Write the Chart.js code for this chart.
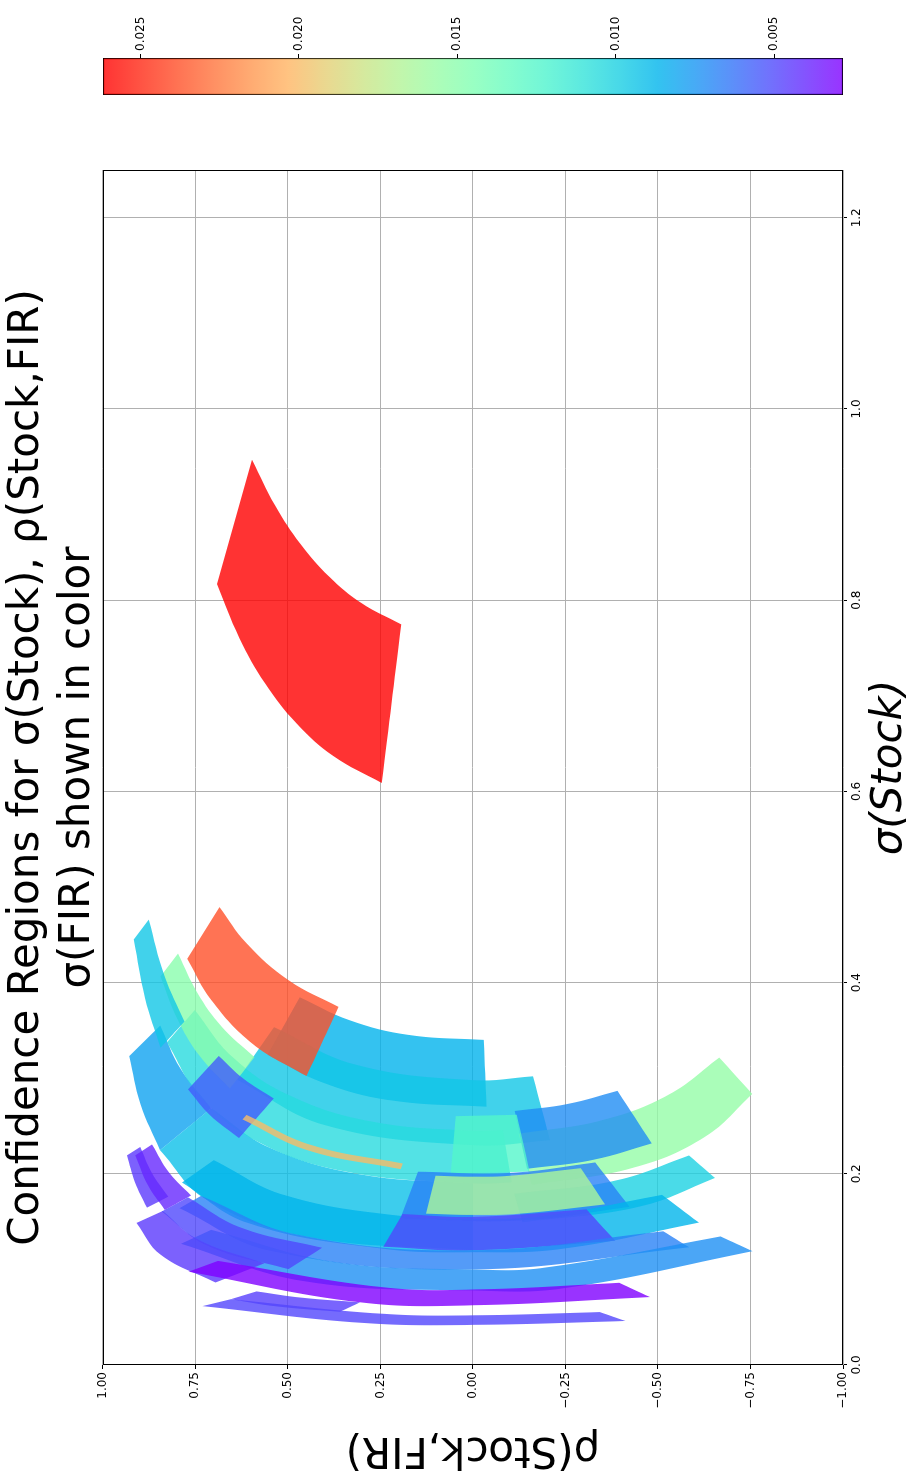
<!DOCTYPE html>
<html>
<head>
<meta charset="utf-8">
<script src="https://cdn.jsdelivr.net/npm/chart.js@4.4.1/dist/chart.umd.min.js"></script>
<style>
  html, body { margin: 0; padding: 0; background: #fff; overflow: hidden; }
  /* the figure is drawn landscape and turned a quarter turn, like the reference */
  #page { position: absolute; left: 0; top: 0; width: 1480px; height: 915px;
          transform-origin: 0 0; transform: translateY(1480px) rotate(-90deg); }
  #main { position: absolute; left: 0; top: 0; width: 1480px; height: 915px; }
  #cbar { position: absolute; left: 1385px; top: 0; width: 97px; height: 915px; }
</style>
</head>
<body>
<div id="page">
  <canvas id="main" width="1480" height="915"></canvas>
  <canvas id="cbar" width="97" height="915"></canvas>
</div>
<script>
// ── data ──────────────────────────────────────────
// sigma(FIR) of each confidence region, in drawing order (bottom first)
const firVol = [0.0262, 0.0086, 0.0080, 0.0092, 0.0095, 0.0238, 0.0105, 0.0150, 0.0095,
  0.0056, 0.0200, 0.0155, 0.0072, 0.0125, 0.0100, 0.0068, 0.0165, 0.0087, 0.0050,
  0.0068, 0.0073, 0.0045, 0.0050, 0.0045, 0.0040, 0.0047, 0.0028, 0.0049];

// outline of each region (lower edge, then upper edge): sigma(Stock)
const sigmaStock = [
  [0.8169, 0.7606, 0.7128, 0.6712, 0.6369, 0.6088, 0.7747, 0.7970, 0.8246, 0.8588, 0.8989, 0.9470],
  [0.3245, 0.2955, 0.2766, 0.2702, 0.3401, 0.3453, 0.3606, 0.3847],
  [0.3231, 0.2728, 0.2247, 0.2687, 0.3100, 0.3551],
  [0.2247, 0.1733, 0.1342, 0.1200, 0.1900, 0.1992, 0.2274, 0.2687],
  [0.2983, 0.2508, 0.2300, 0.2352, 0.3020, 0.2980, 0.3143, 0.3534],
  [0.4249, 0.3818, 0.3360, 0.3023, 0.3746, 0.4022, 0.4412, 0.4790],
  [0.3376, 0.2832, 0.2360, 0.2025, 0.1900, 0.1910, 0.2458, 0.2450, 0.2548, 0.2822, 0.3227, 0.3713],
  [0.4064, 0.3628, 0.3242, 0.2892, 0.3220, 0.3538, 0.3895, 0.4304],
  [0.4451, 0.3838, 0.3318, 0.3592, 0.4077, 0.4659],
  [0.2883, 0.2616, 0.2374, 0.2788, 0.2997, 0.3233],
  [0.2569, 0.2245, 0.2049, 0.2108, 0.2299, 0.2616],
  [0.1884, 0.2066, 0.2389, 0.2835, 0.3216, 0.2830, 0.2563, 0.2419],
  [0.2052, 0.2147, 0.2318, 0.2868, 0.2731, 0.2657],
  [0.2004, 0.2024, 0.2618, 0.2603],
  [0.1493, 0.1659, 0.1957, 0.2192, 0.1932, 0.1791],
  [0.1530, 0.1513, 0.1655, 0.2119, 0.2010, 0.2022],
  [0.1583, 0.1570, 0.1583, 0.1681, 0.2059, 0.1980, 0.1970, 0.1980],
  [0.1909, 0.1484, 0.1218, 0.1180, 0.1218, 0.1490, 0.1780, 0.1559, 0.1530, 0.1559, 0.1775, 0.2143],
  [0.1237, 0.1200, 0.1300, 0.1629, 0.1550, 0.1579],
  [0.1640, 0.1193, 0.1000, 0.1232, 0.1399, 0.1200, 0.1365, 0.1769],
  [0.1268, 0.0877, 0.0780, 0.0805, 0.1191, 0.1345, 0.1020, 0.1000, 0.1077, 0.1414],
  [0.1486, 0.1155, 0.0863, 0.1065, 0.1313, 0.1611],
  [0.1606, 0.1252, 0.1003, 0.1227, 0.1437, 0.1754],
  [0.2193, 0.1916, 0.1646, 0.1761, 0.2016, 0.2281],
  [0.2193, 0.1880, 0.1622, 0.1773, 0.2011, 0.2307],
  [0.0688, 0.0613, 0.0557, 0.0656, 0.0704, 0.0770],
  [0.0976, 0.0656, 0.0625, 0.0711, 0.0860, 0.0790, 0.0815, 0.1089],
  [0.0616, 0.0440, 0.0420, 0.0461, 0.0554, 0.0520, 0.0536, 0.0688]
];

// outline of each region (lower edge, then upper edge): rho(Stock,FIR)
const rhoStockFir = [
  [0.6916, 0.6311, 0.5612, 0.4768, 0.3768, 0.2464, 0.1936, 0.3011, 0.3881, 0.4658, 0.5340, 0.5966],
  [0.5547, 0.4061, 0.2169, -0.0370, -0.0294, 0.1738, 0.3328, 0.4679],
  [0.9285, 0.8981, 0.8455, 0.7071, 0.7903, 0.8448],
  [0.8455, 0.7213, 0.4472, 0, 0, 0.3012, 0.5496, 0.7071],
  [0.6369, 0.3987, 0, -0.2083, -0.1623, 0, 0.3182, 0.5376],
  [0.7720, 0.7071, 0.5952, 0.4499, 0.3631, 0.4972, 0.6119, 0.6848],
  [0.8265, 0.7415, 0.5932, 0.3457, 0, -0.1047, -0.0814, 0, 0.2747, 0.4961, 0.6508, 0.7514],
  [0.8440, 0.7993, 0.7402, 0.6570, 0.5900, 0.6783, 0.7446, 0.7969],
  [0.9166, 0.8859, 0.8439, 0.7795, 0.8339, 0.8757],
  [0.7700, 0.7110, 0.6319, 0.5380, 0.6206, 0.6867],
  [0.6228, 0.4454, 0.1952, 0.1897, 0.4350, 0.6116],
  [-0.1592, -0.4356, -0.6279, -0.7548, -0.6654, -0.5300, -0.3511, -0.1240],
  [-0.1462, -0.3260, -0.4832, -0.3905, -0.2563, -0.1129],
  [0.0599, -0.1532, -0.1184, 0.0461],
  [-0.1339, -0.4521, -0.6541, -0.5839, -0.3882, -0.1117],
  [0.1961, -0.1322, -0.4229, -0.3303, -0.0995, 0.1483],
  [0.1264, 0, -0.1264, -0.3570, -0.2914, -0.1010, 0, 0.1010],
  [0.7858, 0.6065, 0.2463, 0, -0.2463, -0.6107, -0.5112, -0.1924, 0, 0.1924, 0.5070, 0.7000],
  [0.2425, 0, -0.3846, -0.3070, 0, 0.1900],
  [0.7926, 0.5450, 0, -0.5843, -0.5146, 0, 0.4762, 0.7348],
  [0.7885, 0.4563, 0, -0.2484, -0.7557, -0.6690, -0.1961, 0, 0.3714, 0.7071],
  [0.9088, 0.8441, 0.6953, 0.5634, 0.7425, 0.8378],
  [0.8406, 0.7189, 0.4985, 0.4075, 0.6264, 0.7696],
  [0.9347, 0.9134, 0.8809, 0.8234, 0.8681, 0.8988],
  [0.9120, 0.8777, 0.8323, 0.7614, 0.8205, 0.8669],
  [0.6541, 0.5300, 0.3590, 0.3048, 0.4615, 0.5844],
  [0.7682, 0.3048, 0, -0.4782, -0.3953, 0, 0.2454, 0.6885],
  [0.7306, 0.2955, 0, -0.4122, -0.3430, 0, 0.2425, 0.6541]
];

const sigmaTicks = [0, 0.2, 0.4, 0.6, 0.8, 1.0, 1.2];
const rhoTicks = [-1, -0.75, -0.5, -0.25, 0, 0.25, 0.5, 0.75, 1];
const firTicks = [0.005, 0.010, 0.015, 0.020, 0.025];
const firRange = [0.00283, 0.02618];

const family = 'DejaVu Sans';

// ── matplotlib 'rainbow' colormap ──────────────────
function rainbow(t, a) {
  const cl = v => Math.max(0, Math.min(1, v));
  const r = cl(Math.abs(2 * t - 0.5));
  const g = cl(Math.sin(Math.PI * t));
  const b = cl(Math.cos(Math.PI * t / 2));
  return `rgba(${Math.round(r * 255)},${Math.round(g * 255)},${Math.round(b * 255)},${a})`;
}
const firColor = v => rainbow((v - firRange[0]) / (firRange[1] - firRange[0]), 0.8);

// ── main chart ────────────────────────────────────
const datasets = firVol.map((v, i) => {
  const pts = sigmaStock[i].map((s, j) => ({ x: s, y: rhoStockFir[i][j] }));
  // the two corners where the outline turns back are listed twice,
  // so the curved edges stay smooth and the short ends stay straight
  const h = pts.length / 2;
  pts.splice(h, 0, { ...pts[h - 1] });
  pts.splice(h + 2, 0, { ...pts[h + 1] });
  return {
    data: pts,
    showLine: true,
    tension: 0.4,
    fill: 'shape',
    backgroundColor: firColor(v),
    borderColor: 'rgba(0,0,0,0)',
    borderWidth: 0,
    pointRadius: 0,
    pointHoverRadius: 0
  };
});
// Chart.js paints the first dataset on top, so hand them over reversed
datasets.reverse();

const frame = {
  id: 'frame',
  afterDraw(chart) {
    const a = chart.chartArea, ctx = chart.ctx;
    ctx.save();
    ctx.strokeStyle = '#000';
    ctx.lineWidth = 1;
    ctx.strokeRect(Math.round(a.left) + 0.5, Math.round(a.top) + 0.5,
      Math.round(a.right - a.left) - 1, Math.round(a.bottom - a.top) - 1);
    ctx.restore();
  }
};

new Chart(document.getElementById('main'), {
  type: 'scatter',
  data: { datasets },
  plugins: [frame],
  options: {
    responsive: false,
    animation: false,
    devicePixelRatio: 1,
    layout: { padding: { top: 0, right: 170, bottom: 0, left: 0 } },
    plugins: {
      legend: { display: false },
      tooltip: { enabled: false },
      title: {
        display: true,
        fullSize: false,
        text: ['Confidence Regions for σ(Stock), ρ(Stock,FIR)', 'σ(FIR) shown in color'],
        color: '#000',
        font: { family, size: 42, weight: 'normal', lineHeight: 1.2 },
        padding: { top: 2, bottom: 0 }
      }
    },
    scales: {
      x: {
        type: 'linear', min: 0, max: 1.25, z: 1,
        afterFit: s => { s.height = 72; },
        afterBuildTicks: s => { s.ticks = sigmaTicks.map(v => ({ value: v })); },
        grid: { color: '#b0b0b0', lineWidth: 1, tickColor: '#000', tickLength: 4 },
        border: { display: false },
        ticks: { color: '#000', padding: 3, maxRotation: 0, autoSkip: false,
                 font: { family, size: 12 }, callback: v => v.toFixed(1) },
        title: { display: true, text: 'σ(Stock)', color: '#000',
                 font: { family, size: 42, style: 'italic', lineHeight: 1.2 },
                 padding: { top: 0, bottom: 0 } }
      },
      y: {
        type: 'linear', min: -1, max: 1, z: 1,
        afterFit: s => { s.width = 115; },
        afterBuildTicks: s => { s.ticks = rhoTicks.map(v => ({ value: v })); },
        grid: { color: '#b0b0b0', lineWidth: 1, tickColor: '#000', tickLength: 4 },
        border: { display: false },
        ticks: { color: '#000', padding: 3, autoSkip: false,
                 font: { family, size: 12 },
                 callback: v => v.toFixed(2).replace('-', '\u2212') },
        title: { display: true, text: 'ρ(Stock,FIR)', color: '#000',
                 font: { family, size: 42, lineHeight: 1.2 },
                 padding: { top: 6, bottom: 0 } }
      }
    }
  }
});

// ── colorbar ──────────────────────────────────────
function cbarFill(context) {
  const chart = context.chart;
  const a = chart.chartArea;
  if (!a) return firColor(firRange[0]);
  const g = chart.ctx.createLinearGradient(0, a.bottom, 0, a.top);
  for (let i = 0; i <= 20; i++) g.addColorStop(i / 20, rainbow(i / 20, 0.8));
  return g;
}

new Chart(document.getElementById('cbar'), {
  type: 'bar',
  data: {
    labels: [''],
    datasets: [{
      data: [firRange],
      backgroundColor: cbarFill,
      borderColor: '#000',
      borderWidth: 1,
      borderSkipped: false,
      barPercentage: 1,
      categoryPercentage: 1
    }]
  },
  options: {
    responsive: false,
    animation: false,
    devicePixelRatio: 1,
    layout: { padding: { top: 103, bottom: 72, left: 0, right: 0 } },
    plugins: { legend: { display: false }, tooltip: { enabled: false } },
    scales: {
      x: { display: false },
      y: {
        position: 'right', min: firRange[0], max: firRange[1],
        afterFit: s => { s.width = 60; },
        afterBuildTicks: s => { s.ticks = firTicks.map(v => ({ value: v })); },
        grid: { drawOnChartArea: false, color: '#000', tickLength: 4 },
        border: { display: false },
        ticks: { color: '#000', padding: 3, font: { family, size: 12 },
                 callback: v => v.toFixed(3) }
      }
    }
  }
});
</script>
</body>
</html>
